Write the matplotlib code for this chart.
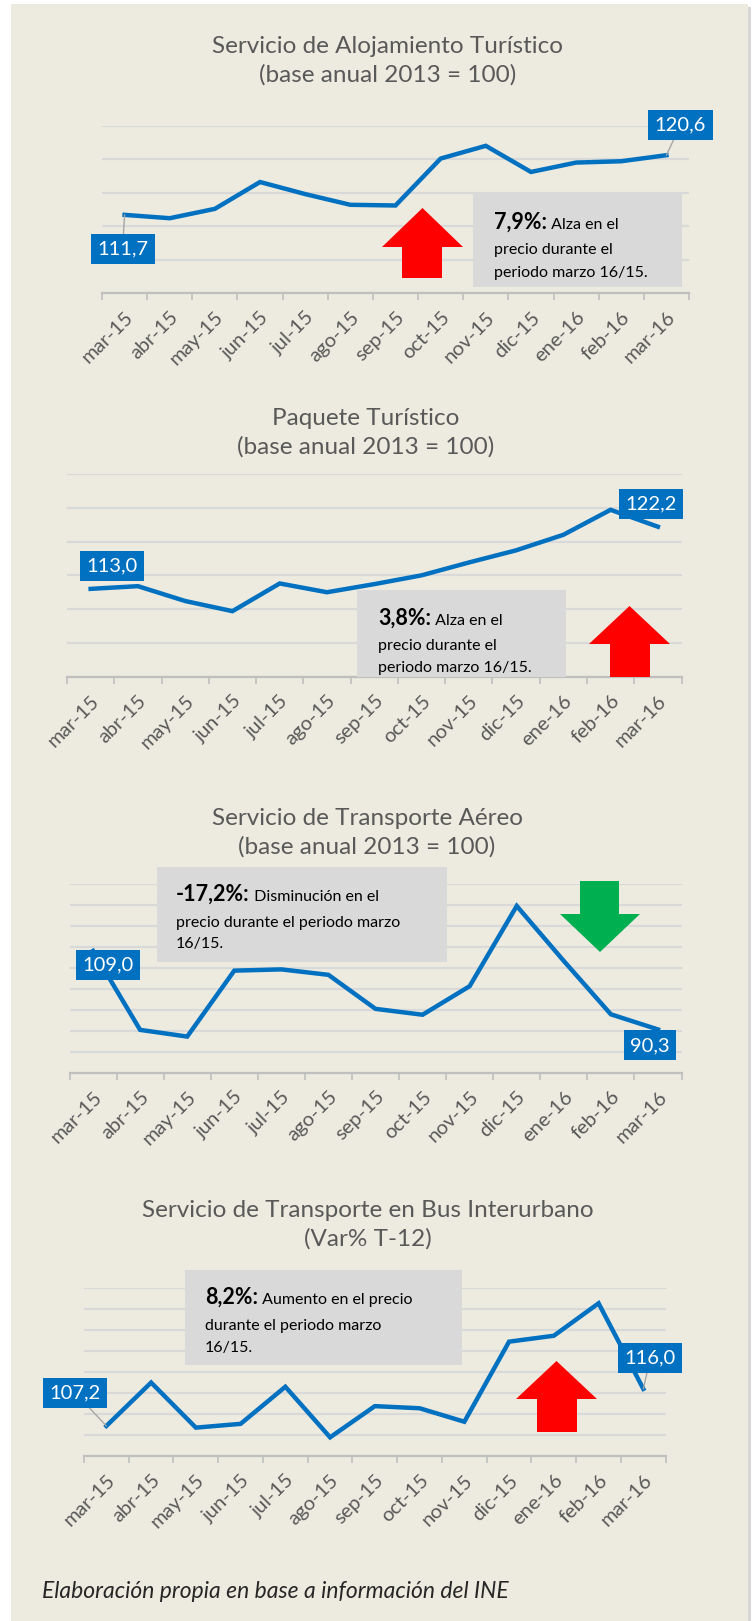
import numpy as np
import matplotlib
matplotlib.use('Agg')
from matplotlib import pyplot as plt
from matplotlib.patches import Rectangle, Polygon

plt.rcParams['font.family'] = ['Lato', 'DejaVu Sans']

months = ['mar-15', 'abr-15', 'may-15', 'jun-15', 'jul-15', 'ago-15', 'sep-15',
          'oct-15', 'nov-15', 'dic-15', 'ene-16', 'feb-16', 'mar-16']

aloj = [111.7, 111.2, 112.6, 116.6, 114.8, 113.2, 113.1, 120.1, 122.0, 118.1, 119.5, 119.7, 120.6]
paquete = [113.0, 113.4, 111.2, 109.7, 113.8, 112.5, 113.7, 115.0, 116.9, 118.7, 121.0, 124.7, 122.2]
aereo = [109.0, 90.2, 88.6, 104.3, 104.6, 103.3, 95.2, 93.8, 100.6, 119.7, 106.6, 93.9, 90.3]
bus = [107.2, 117.5, 106.8, 107.7, 116.5, 104.5, 111.9, 111.4, 108.2, 127.2, 128.6, 136.3, 116.0]

titles = ['Servicio de Alojamiento Turístico\n(base anual 2013 = 100)',
          'Paquete Turístico\n(base anual 2013 = 100)',
          'Servicio de Transporte Aéreo\n(base anual 2013 = 100)',
          'Servicio de Transporte en Bus Interurbano\n(Var% T-12)']
ylims = [(100, 125), (100, 130), (80, 125), (100, 140)]
notes = [('7,9%:', ' Alza en el', ['precio durante el', 'periodo marzo 16/15.']),
         ('3,8%:', ' Alza en el', ['precio durante el', 'periodo marzo 16/15.']),
         ('-17,2%:', ' Disminución en el', ['precio durante el periodo marzo', '16/15.']),
         ('8,2%:', ' Aumento en el precio', ['durante el periodo marzo', '16/15.'])]

W, H = 752, 1621
BLUE = '#0070C0'
BG = '#EDEBE0'
GRAY_TXT = '#595959'

fig = plt.figure(figsize=(W / 100, H / 100), dpi=100)
fig.patch.set_facecolor('white')


def fx(px):
    return px / W


def fy(py):
    return 1 - py / H


def frect(x0, y0, x1, y1, color, z=0):
    fig.patches.append(Rectangle((fx(x0), fy(y1)), fx(x1) - fx(x0), fy(y0) - fy(y1),
                                 transform=fig.transFigure, facecolor=color,
                                 edgecolor='none', zorder=z))


def farrow(xl, xr, sl, sr, tip, base, end, color):
    pts = [(xl, base), (sl, base), (sl, end), (sr, end), (sr, base), (xr, base),
           ((xl + xr) / 2, tip)]
    fig.patches.append(Polygon([(fx(a), fy(b)) for a, b in pts], closed=True,
                               transform=fig.transFigure, facecolor=color,
                               edgecolor='none', zorder=5))


# panel with a light shadow
frect(14, 7, 751, 1621, '#D6D6D6', z=-2)
frect(11, 4, 748, 1621, BG, z=-1)

# axes geometry in pixels: left, right, top, bottom
geo = [(102, 689, 125.7, 293.3),
       (67, 681.5, 474, 676.7),
       (69.5, 681.5, 883.7, 1072.7),
       (84, 665.7, 1287.7, 1456.3)]
title_y = [61, 433, 832.5, 1224.5]
title_x = [388, 366, 367, 368]
series = [aloj, paquete, aereo, bus]

# value label offsets (pixels) for first and last point
lab_off = [((-2, -34), (14, 30)),
           ((21, 23), (-7, 23)),
           ((15, -14), (-8, -16)),
           ((-31, 33), (7, 31))]
lab_leader = [(True, True), (False, False), (False, False), (True, True)]

# note boxes (x0, y0, x1, y1) and text origin/line baselines
note_box = [(473, 194, 682, 287), (357, 590, 566, 677), (157, 867, 447, 962), (185, 1270, 462, 1365)]
note_txt = [(494, [229, 254, 277]), (378, [625, 650, 672]), (176, [901, 927, 948]), (205, [1304, 1330, 1352])]

# arrows: xl, xr, shaft l, shaft r, tip, base, end, color
arrows = [(382, 463, 402, 442, 208, 247, 278, '#FF0000'),
          (589, 670, 610, 650, 606, 644, 677, '#FF0000'),
          (560, 640, 580, 619, 952, 914, 881, '#00B050'),
          (516, 597, 537, 577, 1361, 1399, 1432, '#FF0000')]

x = np.arange(len(months))
renderer = fig.canvas.get_renderer()

for i in range(4):
    l, r, t, b = geo[i]
    ax = fig.add_axes([fx(l), fy(b), fx(r) - fx(l), fy(t) - fy(b)])
    ax.set_facecolor('none')
    ax.plot(x, series[i], color=BLUE, lw=3.2, solid_joinstyle='miter', zorder=3, clip_on=False)
    ax.set_xlim(-0.5, len(months) - 0.5)
    ax.set_ylim(*ylims[i])
    ax.set_yticks(np.arange(ylims[i][0], ylims[i][1] + 1, 5))
    ax.yaxis.grid(True, color='#D9D9D9', lw=1.6)
    ax.tick_params(axis='y', length=0, labelleft=False)
    ax.set_xticks(np.arange(-0.5, len(months)), labels=[])
    ax.set_xticks(x, labels=months, minor=True)
    ax.tick_params(axis='x', which='major', length=5, width=1.2, color='#BFBFBF')
    ax.tick_params(axis='x', which='minor', length=0, pad=11, labelsize=14.5, labelcolor=GRAY_TXT)
    for lab in ax.get_xticklabels(minor=True):
        lab.set_rotation(45)
        lab.set_ha('right')
        lab.set_va('top')
        lab.set_rotation_mode('anchor')
    for s in ['top', 'right', 'left']:
        ax.spines[s].set_visible(False)
    ax.spines['bottom'].set_color('#BFBFBF')
    ax.spines['bottom'].set_linewidth(1.6)

    fig.text(fx(title_x[i]), fy(title_y[i]), titles[i], ha='center', va='center',
             fontsize=17.5, color=GRAY_TXT, linespacing=1.4)

    # value labels
    for k, idx in enumerate([0, len(months) - 1]):
        val = series[i][idx]
        ap = dict(arrowstyle='-', color='#A6A6A6', lw=1, shrinkA=0, shrinkB=0) if lab_leader[i][k] else None
        ax.annotate(f'{val:.1f}'.replace('.', ','), xy=(idx, val), xytext=lab_off[i][k],
                    textcoords='offset pixels', ha='center', va='center', fontsize=14.5,
                    color='white', zorder=6, annotation_clip=False, arrowprops=ap,
                    bbox=dict(boxstyle='square,pad=0.32', fc=BLUE, ec='none'))

    # note box
    x0, y0, x1, y1 = note_box[i]
    frect(x0, y0, x1, y1, '#D9D9D9', z=4)
    tx, lines_y = note_txt[i]
    bold, first, rest = notes[i]
    tb = fig.text(fx(tx), fy(lines_y[0]), bold, fontsize=15.5, fontweight='bold',
                  color='black', va='baseline', zorder=6)
    bb = tb.get_window_extent(renderer)
    fig.text(bb.x1 / W, fy(lines_y[0]), first, fontsize=11.5, color='black', va='baseline', zorder=6)
    for j, line in enumerate(rest):
        fig.text(fx(tx), fy(lines_y[j + 1]), line, fontsize=11.5, color='black', va='baseline', zorder=6)

    farrow(*arrows[i])

fig.text(fx(42), fy(1592), 'Elaboración propia en base a información del INE', fontsize=16.5,
         style='italic', color='#262626', va='center')

fig.savefig('out.png', dpi=100)
